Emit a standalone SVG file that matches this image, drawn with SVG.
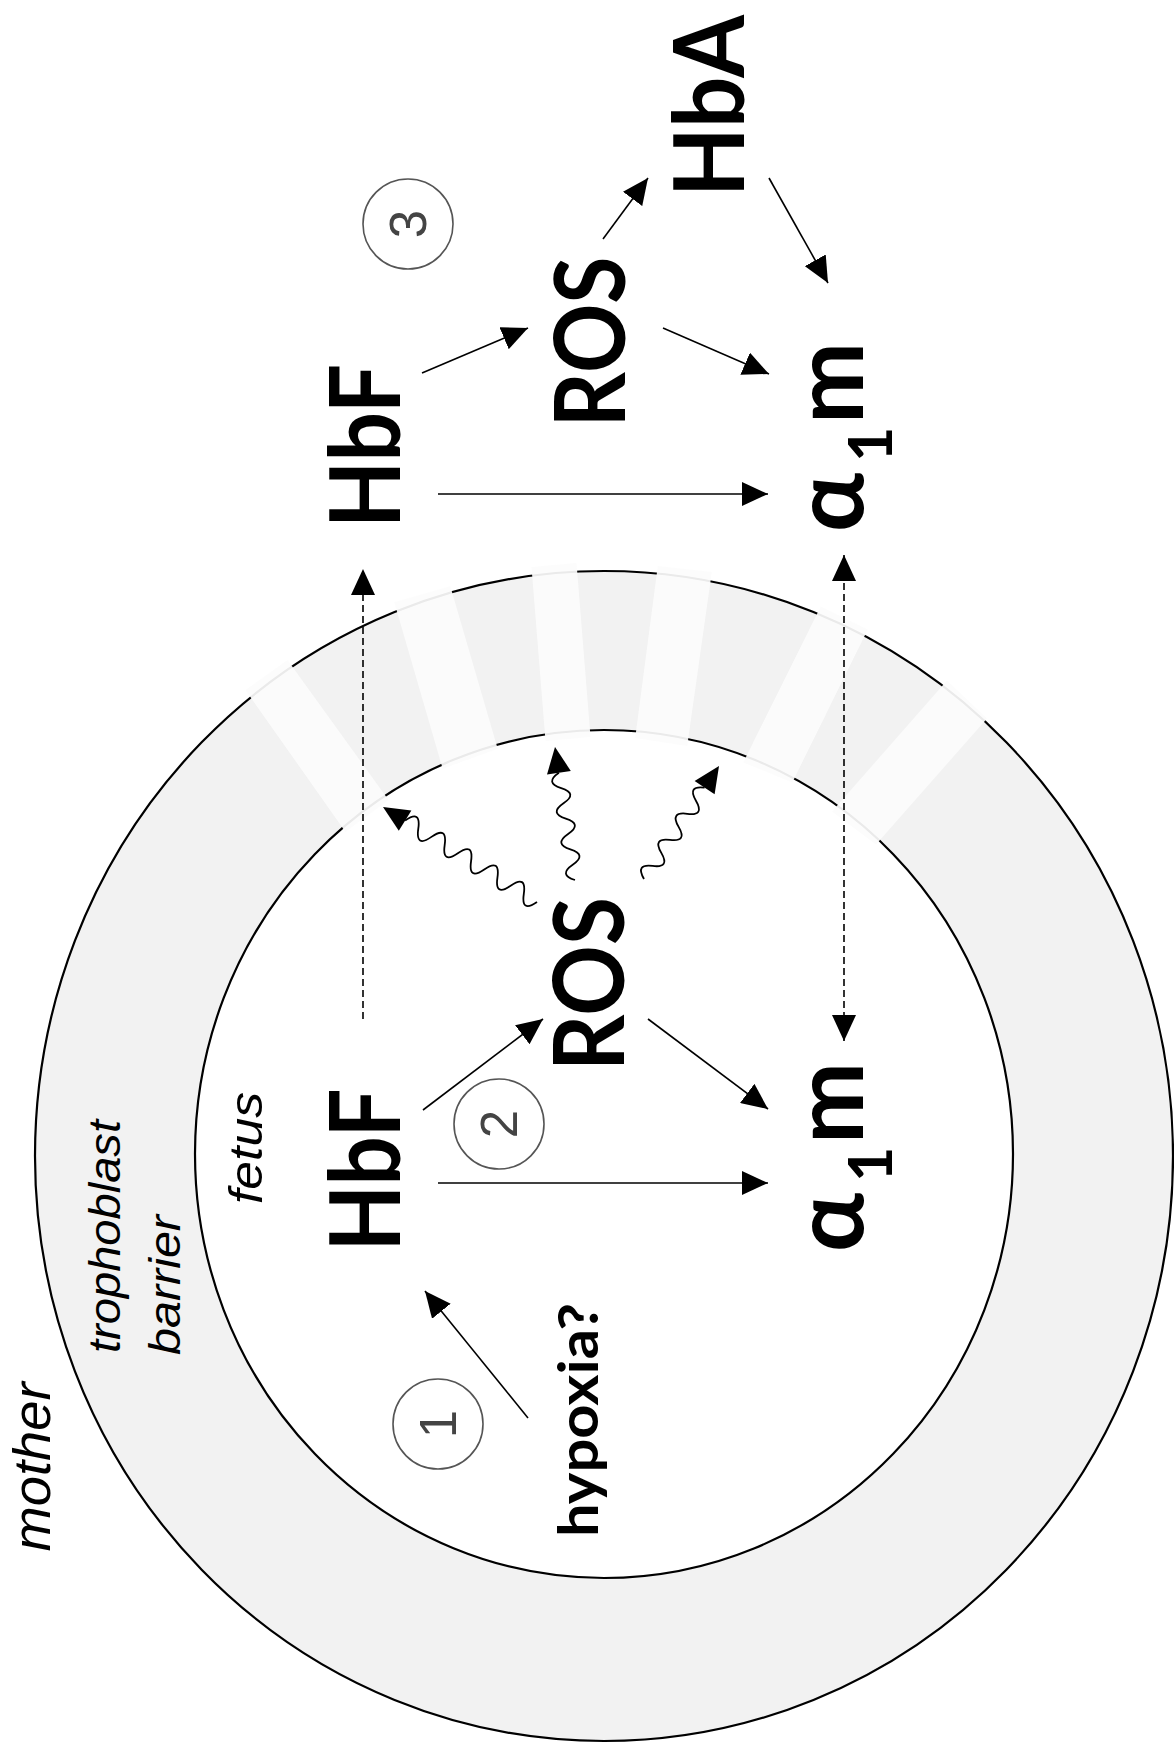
<svg xmlns="http://www.w3.org/2000/svg" width="1174" height="1753" viewBox="0 0 1174 1753">
<style>
.lbl{font-family:Lato,'Open Sans','DejaVu Sans',sans-serif;font-weight:700;fill:#000}
.big{font-size:98px}
.it{font-family:'Liberation Sans',Arial,sans-serif;font-style:italic;fill:#000}
.num{font-family:'Liberation Sans',Arial,sans-serif;font-size:51px;fill:#444}
.circ{fill:none;stroke:#555;stroke-width:1.6}
.arr{fill:none;stroke:#000;stroke-width:1.6;marker-end:url(#ah)}
.dash{stroke-dasharray:7 4}
.wave{fill:none;stroke:#000;stroke-width:1.8}
.band{fill:#fcfcfc;fill-opacity:0.93}
</style>
<defs>
<marker id="ah" markerUnits="userSpaceOnUse" markerWidth="26" markerHeight="24" refX="26" refY="12" orient="auto-start-reverse"><path d="M0,0 L26,12 L0,24 z" fill="#000"/></marker>
</defs>
<rect width="1174" height="1753" fill="#fff"/>
<g id="mother-region">
<ellipse cx="604" cy="1156" rx="569" ry="585" fill="#f2f2f2" stroke="#000" stroke-width="2.2"/>
<text class="it" font-size="51" transform="translate(50,1467) rotate(-90)" text-anchor="middle" textLength="169" lengthAdjust="spacingAndGlyphs">mother</text>
</g>
<g id="trophoblast-barrier">
<ellipse cx="604" cy="1154" rx="409" ry="424" fill="#fff" stroke="#000" stroke-width="2.2"/>
<polygon class="band" points="245.5,690.1 287.5,660.1 388.5,799.9 345.5,831.9"/>
<polygon class="band" points="394.3,602.2 450.3,586.2 497.7,748.8 442.7,768.8"/>
<polygon class="band" points="531.5,567 576.5,563 590.5,737 545.5,741"/>
<polygon class="band" points="657.8,566.1 711.8,572.1 687.2,745.9 635.2,737.9"/>
<polygon class="band" points="820.7,606.6 867.7,629.6 792.3,782.4 743.3,762.4"/>
<polygon class="band" points="947,680.5 987,718.5 876,844.5 832,811.5"/>
<text class="it" font-size="45" transform="translate(120,1353) rotate(-90)" textLength="233" lengthAdjust="spacingAndGlyphs">trophoblast</text>
<text class="it" font-size="45" transform="translate(180,1355) rotate(-90)" textLength="140" lengthAdjust="spacingAndGlyphs">barrier</text>
</g>
<g id="fetus-label">
<text class="it" font-size="46" transform="translate(262,1148) rotate(-90)" text-anchor="middle" textLength="112" lengthAdjust="spacingAndGlyphs">fetus</text>
</g>
<g id="hypoxia">
<text class="lbl" style="font-size:55px" transform="translate(598,1420) rotate(-90)" text-anchor="middle" textLength="234" lengthAdjust="spacingAndGlyphs">hypoxia?</text>
</g>
<g id="hbf-fetal">
<text class="lbl big" transform="translate(400,1170) rotate(-90)" text-anchor="middle" textLength="163" lengthAdjust="spacingAndGlyphs">HbF</text>
</g>
<g id="ros-fetal">
<text class="lbl big" transform="translate(624,984) rotate(-90)" text-anchor="middle" textLength="174" lengthAdjust="spacingAndGlyphs">ROS</text>
</g>
<g id="a1m-fetal">
<text class="lbl big" transform="translate(863,1252) rotate(-90)"><tspan x="0" y="0">α</tspan><tspan x="70" y="29" style="font-size:61px">1</tspan><tspan x="108" y="0">m</tspan></text>
</g>
<g id="hbf-maternal">
<text class="lbl big" transform="translate(400,446) rotate(-90)" text-anchor="middle" textLength="164" lengthAdjust="spacingAndGlyphs">HbF</text>
</g>
<g id="ros-maternal">
<text class="lbl big" transform="translate(625,342) rotate(-90)" text-anchor="middle" textLength="171" lengthAdjust="spacingAndGlyphs">ROS</text>
</g>
<g id="hba">
<text class="lbl big" transform="translate(744,106) rotate(-90)" text-anchor="middle" textLength="182" lengthAdjust="spacingAndGlyphs">HbA</text>
</g>
<g id="a1m-maternal">
<text class="lbl big" transform="translate(863,532) rotate(-90)"><tspan x="0" y="0">α</tspan><tspan x="70" y="29" style="font-size:61px">1</tspan><tspan x="108" y="0">m</tspan></text>
</g>
<g id="step1">
<circle class="circ" cx="438" cy="1424" r="45"/>
<text class="num" transform="translate(456,1424) rotate(-90)" text-anchor="middle">1</text>
</g>
<g id="step2">
<circle class="circ" cx="499" cy="1124" r="45"/>
<text class="num" transform="translate(517,1124) rotate(-90)" text-anchor="middle">2</text>
</g>
<g id="step3">
<circle class="circ" cx="408" cy="224" r="45"/>
<text class="num" transform="translate(426,224) rotate(-90)" text-anchor="middle">3</text>
</g>
<g id="connectors">
<path class="arr" d="M528,1418 L425,1291"/>
<path class="arr" d="M423,1110 L543,1019"/>
<path class="arr" d="M648,1019 L768,1109"/>
<path class="arr" d="M438,1183 L768,1183"/>
<path class="arr dash" d="M363,1019 L363,569"/>
<path class="arr dash" d="M844,1041 L844,555" marker-start="url(#ah)"/>
<path class="arr" d="M422,373 L528,328"/>
<path class="arr" d="M603,239 L648,178"/>
<path class="arr" d="M769,178 L828,283"/>
<path class="arr" d="M663,328 L769,374"/>
<path class="arr" d="M438,494 L768,494"/>
<path class="wave" d="M537,902 Q520.95,913.25 523.81,893.86 T510.62,885.72 T497.43,877.58 T484.24,869.44 T471.05,861.3 T457.86,853.16 T444.67,845.02 T431.48,836.88 T418.29,828.74 T405.1,820.6"/>
<polygon points="383,807 398.8,830.8 411.4,810.4" fill="#000"/>
<path class="wave" d="M575,880 Q558.03,874.71 572.7,864.67 T570.4,849.34 T568.1,834.01 T565.8,818.68 T563.5,803.35 T561.2,788.02 T558.9,772.7"/>
<polygon points="555,747 547,774.5 570.8,770.9" fill="#000"/>
<path class="wave" d="M644,879 Q635,863.63 652.66,865.96 T661.31,852.91 T669.97,839.87 T678.63,826.83 T687.29,813.78 T695.94,800.74 T704.6,787.7"/>
<polygon points="719,766 694.6,781.1 714.6,794.3" fill="#000"/>
</g>
</svg>
